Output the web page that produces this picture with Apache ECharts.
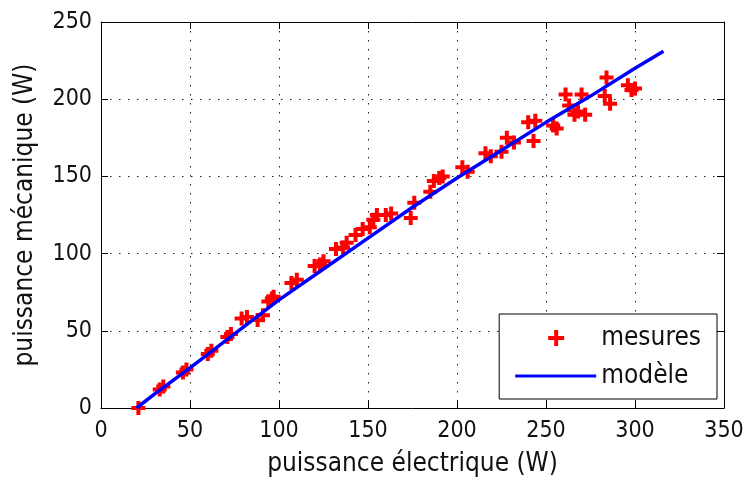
<!DOCTYPE html>
<html>
<head>
<meta charset="utf-8">
<script src="https://cdn.jsdelivr.net/npm/echarts@6/dist/echarts.min.js"></script>
<style>html,body{margin:0;padding:0;background:#fff}#c{width:747px;height:479px}</style>
</head>
<body>
<div id="c"></div>
<script>
// Measured points: electrical power (W) vs mechanical power (W)
const mesuresX = [21,33,35,46,48,60,62,71,73,79,82,88,91,94,96,97,107,110,120,123,125,132,136,138,143,147,151,153,155,160,163,174,176,185,187,190,192,203,206,216,219,225,228,232,240,243,244,254,256,261,263,266,268,270,272,283,284,286,296,298,300];
const mesuresY = [0,12,14,23,25,35,37,46,48,58,59,57,60,69,71,72,81,83,92,93,95,103,104,107,112,116,117,122,125,125,126,123,133,140,147,149,150,156,153,165,163,166,175,172,185,173,186,183,181,203,196,190,192,203,190,202,214,197,209,206,207];
// Model curve
const modeleX = [20,30,50,75,100,125,150,175,200,225,250,275,300,316];
const modeleY = [0,9,26,48,70,90,110,130,149,167,185,202,220,231];
const xTicks = [0,50,100,150,200,250,300,350];
const yTicks = [0,50,100,150,200,250];

const plus = 'path://M5,0H9V5H14V9H9V14H5V9H0V5H5Z';
// legend icons: tiny corner points fix the bounding box to 81x18
const plusIcon = 'path://M0,0L0.01,0L0,0.01Z M81,18L80.99,18L81,17.99Z M39,1H43V7H49V11H43V17H39V11H33V7H39Z';
const lineIcon = 'path://M0,0L0.01,0L0,0.01Z M81,18L80.99,18L81,17.99Z M0,7.5H81V10.5H0Z';
const font = "'DejaVu Sans Condensed', 'Liberation Sans Narrow', sans-serif";
const txt = '#111';
const chart = echarts.init(document.getElementById('c'), null, {renderer:'canvas'});
const gridLine = {show:true, lineStyle:{color:'#222', type:[1.5,7.5], width:1}};
const tick = {show:true, inside:true, length:7, lineStyle:{color:'#000'}};
chart.setOption({
  animation:false,
  backgroundColor:'#fff',
  textStyle:{fontFamily:font},
  grid:{left:101, right:23, top:22, bottom:71, outerBoundsMode:'none', containLabel:false},
  xAxis:[{
    type:'value', min:xTicks[0], max:xTicks[xTicks.length-1], interval:50,
    name:'puissance électrique (W)', nameLocation:'middle', nameGap:43,
    nameTextStyle:{fontSize:26, color:txt, fontFamily:font},
    axisLine:{show:true, onZero:false, lineStyle:{color:'#000', width:1}},
    axisTick:tick,
    axisLabel:{fontSize:23, color:txt, margin:12, fontFamily:font},
    splitLine:gridLine
  },{
    type:'value', position:'top', min:0, max:350, interval:50,
    axisLine:{show:true, onZero:false, lineStyle:{color:'#000', width:1}},
    axisTick:tick, axisLabel:{show:false}, splitLine:{show:false}
  }],
  yAxis:[{
    type:'value', min:yTicks[0], max:yTicks[yTicks.length-1], interval:50,
    name:'puissance mécanique (W)', nameLocation:'middle', nameGap:63,
    nameTextStyle:{fontSize:26, color:txt, fontFamily:font},
    axisLine:{show:true, onZero:false, lineStyle:{color:'#000', width:1}},
    axisTick:tick,
    axisLabel:{fontSize:23, color:txt, margin:9, fontFamily:font},
    splitLine:gridLine
  },{
    type:'value', position:'right', min:0, max:250, interval:50,
    axisLine:{show:true, onZero:false, lineStyle:{color:'#000', width:1}},
    axisTick:tick, axisLabel:{show:false}, splitLine:{show:false}
  }],
  legend:{
    orient:'vertical', right:30, bottom:80,
    backgroundColor:'#fff', borderColor:'#000', borderWidth:1, borderRadius:0,
    padding:[9,16,8,16], itemGap:8, itemWidth:81, itemHeight:18,
    itemStyle:{borderWidth:0, opacity:1},
    textStyle:{fontSize:26, lineHeight:30, color:txt, fontFamily:font},
    data:[{name:'mesures', icon:plusIcon},{name:'modèle', icon:lineIcon}]
  },
  series:[{
    name:'mesures', type:'scatter', symbol:plus, symbolSize:14,
    itemStyle:{color:'#ff0000', opacity:1},
    data:mesuresX.map((x,i)=>[x,mesuresY[i]]), z:2
  },{
    name:'modèle', type:'line', symbol:'none', showSymbol:false,
    lineStyle:{color:'#0000ff', width:3.5}, itemStyle:{color:'#0000ff'},
    data:modeleX.map((x,i)=>[x,modeleY[i]]), z:3
  }]
});
</script>
</body>
</html>
